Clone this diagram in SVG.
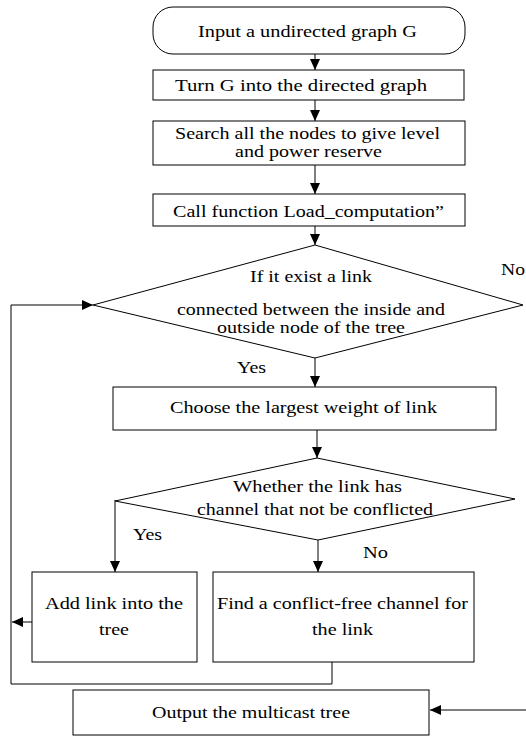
<svg xmlns="http://www.w3.org/2000/svg" width="526" height="736" viewBox="0 0 526 736">
<style>
.s{fill:#fff;stroke:#000;stroke-width:1}
.t{font-family:"Liberation Serif","Times New Roman",serif;font-size:16px;fill:#000;text-anchor:middle}
.l{font-family:"Liberation Serif","Times New Roman",serif;font-size:16px;fill:#000}
.c{fill:none;stroke:#000;stroke-width:1}
</style>
<defs>
<marker id="a" markerUnits="userSpaceOnUse" markerWidth="12" markerHeight="12" refX="11" refY="6" orient="auto">
<path d="M0,1 L11,6 L0,11 z" fill="#000"/>
</marker>
</defs>
<rect width="526" height="736" fill="#fff"/>
<g id="connectors">
<line class="c" x1="315" y1="54" x2="315" y2="70" marker-end="url(#a)"/>
<line class="c" x1="315" y1="100" x2="315" y2="121" marker-end="url(#a)"/>
<line class="c" x1="315" y1="165" x2="315" y2="194" marker-end="url(#a)"/>
<line class="c" x1="315" y1="226" x2="315" y2="245" marker-end="url(#a)"/>
<line class="c" x1="315" y1="358" x2="315" y2="387" marker-end="url(#a)"/>
<line class="c" x1="317" y1="430" x2="317" y2="458" marker-end="url(#a)"/>
<line class="c" x1="115" y1="500" x2="115" y2="572" marker-end="url(#a)"/>
<line class="c" x1="318" y1="540" x2="318" y2="572" marker-end="url(#a)"/>
<line class="c" x1="32" y1="622" x2="12" y2="622" marker-end="url(#a)"/>
<polyline class="c" points="332,662 332,684 11,684 11,305 93,305" marker-end="url(#a)"/>
<line class="c" x1="526" y1="710" x2="430" y2="710" marker-end="url(#a)"/>
</g>
<g id="start">
<rect class="s" x="153" y="7" width="312" height="47" rx="20" ry="20"/>
<text class="t" x="307.5" y="37" textLength="219" lengthAdjust="spacingAndGlyphs">Input a undirected graph G</text>
</g>
<g id="turn">
<rect class="s" x="153" y="70" width="311" height="30"/>
<text class="t" x="301" y="91" textLength="252" lengthAdjust="spacingAndGlyphs">Turn G into the directed graph</text>
</g>
<g id="search">
<rect class="s" x="153" y="121" width="312" height="44"/>
<text class="t" x="307.5" y="139" textLength="265" lengthAdjust="spacingAndGlyphs">Search all the nodes to give level</text>
<text class="t" x="308.5" y="157" textLength="147" lengthAdjust="spacingAndGlyphs">and power reserve</text>
</g>
<g id="call">
<rect class="s" x="153" y="194" width="312" height="32"/>
<text class="t" x="308.5" y="217" textLength="271" lengthAdjust="spacingAndGlyphs">Call function Load_computation”</text>
</g>
<g id="decision1">
<polygon class="s" points="315,245 523,305 315,358 93,305"/>
<text class="t" x="311" y="282" textLength="122" lengthAdjust="spacingAndGlyphs">If it exist a link</text>
<text class="t" x="311" y="315" textLength="268" lengthAdjust="spacingAndGlyphs">connected between the inside and</text>
<text class="t" x="311" y="333" textLength="188" lengthAdjust="spacingAndGlyphs">outside node of the tree</text>
<text class="l" x="501" y="275" textLength="24" lengthAdjust="spacingAndGlyphs">No</text>
<text class="l" x="237" y="373" textLength="29" lengthAdjust="spacingAndGlyphs">Yes</text>
</g>
<g id="choose">
<rect class="s" x="113" y="387" width="383" height="43"/>
<text class="t" x="303.5" y="413" textLength="267" lengthAdjust="spacingAndGlyphs">Choose the largest weight of link</text>
</g>
<g id="decision2">
<polygon class="s" points="317,458 515,499 318,540 115,501"/>
<text class="t" x="317.5" y="492" textLength="169" lengthAdjust="spacingAndGlyphs">Whether the link has</text>
<text class="t" x="315" y="515" textLength="236" lengthAdjust="spacingAndGlyphs">channel that not be conflicted</text>
<text class="l" x="133" y="540" textLength="29" lengthAdjust="spacingAndGlyphs">Yes</text>
<text class="l" x="363" y="558" textLength="25" lengthAdjust="spacingAndGlyphs">No</text>
</g>
<g id="add">
<rect class="s" x="32" y="572" width="165" height="90"/>
<text class="t" x="114" y="609" textLength="138" lengthAdjust="spacingAndGlyphs">Add link into the</text>
<text class="t" x="114" y="635" textLength="30" lengthAdjust="spacingAndGlyphs">tree</text>
</g>
<g id="find">
<rect class="s" x="213" y="572" width="261" height="90"/>
<text class="t" x="342.5" y="609" textLength="251" lengthAdjust="spacingAndGlyphs">Find a conflict-free channel for</text>
<text class="t" x="342.5" y="635" textLength="61" lengthAdjust="spacingAndGlyphs">the link</text>
</g>
<g id="output">
<rect class="s" x="73" y="690" width="356" height="45"/>
<text class="t" x="251" y="718" textLength="198" lengthAdjust="spacingAndGlyphs">Output the multicast tree</text>
</g>
</svg>
